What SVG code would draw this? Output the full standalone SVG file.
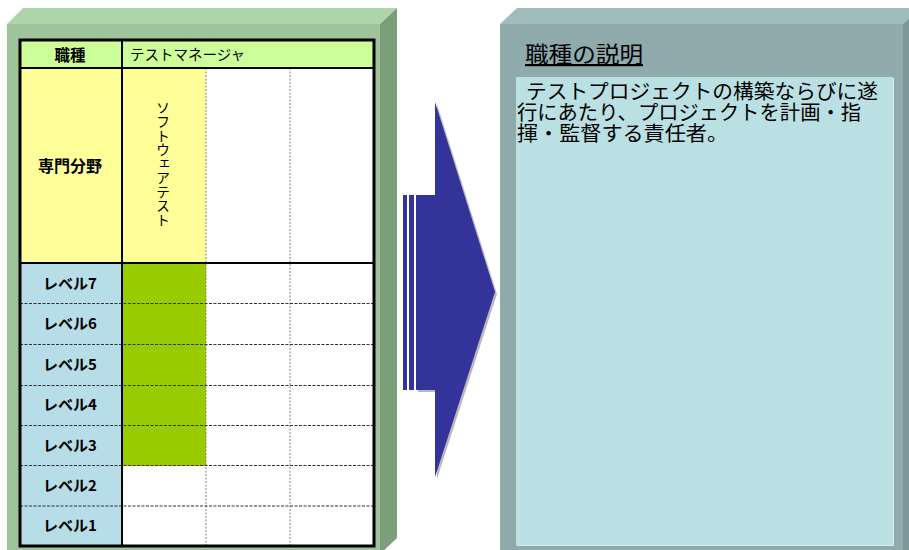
<svg xmlns="http://www.w3.org/2000/svg" width="909" height="550" viewBox="0 0 909 550">
<style>
.t{font-family:"Noto Sans CJK JP","Noto Sans",sans-serif;fill:#000}
.b{font-weight:bold}
.thick{stroke:#000;fill:none}
.vd{stroke:#808080;stroke-width:1;stroke-dasharray:2,1.5}
.hd{stroke:#333;stroke-width:1;stroke-dasharray:3,1.5}
</style>
<rect width="909" height="550" fill="#ffffff"/>
<g id="left-panel">
  <polygon points="7,24 23,8 397,8 380,24" fill="#afd5ab"/>
  <polygon points="380,24 397,8 397,538 380,554" fill="#7d9e7b"/>
  <rect x="7" y="24" width="373" height="530" fill="#9fc49c"/>
</g>
<g id="table">
  <rect x="20" y="40" width="354" height="28" fill="#ccff99"/>
  <rect x="20" y="68" width="102" height="195" fill="#ffff99"/>
  <rect x="122" y="68" width="84" height="195" fill="#ffff99"/>
  <rect x="206" y="68" width="168" height="195" fill="#ffffff"/>
  <rect x="20" y="263" width="102" height="283" fill="#b7dde8"/>
  <rect x="122" y="263" width="84" height="203" fill="#99cc00"/>
  <rect x="122" y="466" width="84" height="80" fill="#ffffff"/>
  <rect x="206" y="263" width="168" height="283" fill="#ffffff"/>
  <g id="grid">
    <line class="vd" x1="206" y1="68" x2="206" y2="546"/>
    <line class="vd" x1="290" y1="68" x2="290" y2="546"/>
    <line class="hd" x1="20" y1="303.5" x2="374" y2="303.5"/>
    <line class="hd" x1="20" y1="344.5" x2="374" y2="344.5"/>
    <line class="hd" x1="20" y1="385.5" x2="374" y2="385.5"/>
    <line class="hd" x1="20" y1="425.5" x2="374" y2="425.5"/>
    <line class="hd" x1="20" y1="465.5" x2="374" y2="465.5"/>
    <line class="hd" x1="20" y1="506" x2="374" y2="506"/>
    <line class="thick" stroke-width="2" x1="20" y1="68" x2="374" y2="68"/>
    <line class="thick" stroke-width="2" x1="20" y1="263" x2="374" y2="263"/>
    <line class="thick" stroke-width="2" x1="122" y1="40" x2="122" y2="546"/>
    <rect class="thick" stroke-width="3" x="20" y="40" width="354" height="506"/>
  </g>
  <text class="t b" x="70" y="61" font-size="15.5" text-anchor="middle">職種</text>
  <text class="t" x="130" y="60" font-size="14.5">テストマネージャ</text>
  <text class="t b" x="70" y="172" font-size="16" text-anchor="middle">専門分野</text>
  <text class="t" x="163" y="101" font-size="14" style="writing-mode:vertical-rl">ソフトウェアテスト</text>
  <g class="t b" font-size="15" text-anchor="middle">
    <text x="70" y="289">レベル7</text>
    <text x="70" y="329">レベル6</text>
    <text x="70" y="370">レベル5</text>
    <text x="70" y="410">レベル4</text>
    <text x="70" y="451">レベル3</text>
    <text x="70" y="491">レベル2</text>
    <text x="70" y="531">レベル1</text>
  </g>
</g>
<g id="arrow">
  <polygon points="418,197 437,197 437,104 497,294 437,479 437,392 418,392" fill="#b8b8c0"/>
  <polygon points="403,195 407,195 407,390 403,390" fill="#333399"/>
  <polygon points="409,195 414,195 414,390 409,390" fill="#333399"/>
  <polygon points="416,195 435,195 435,102 495,292 435,477 435,390 416,390" fill="#333399"/>
</g>
<g id="right-panel">
  <polygon points="500,24 517,8 920,8 903,24" fill="#a0bdbd"/>
  <polygon points="903,24 920,8 920,550 903,550" fill="#7c9898"/>
  <rect x="500" y="24" width="403" height="530" fill="#8eaaaa"/>
  <rect x="517" y="78" width="377" height="468" fill="#d8eef0"/>
  <rect x="516" y="77" width="377" height="468" fill="#bbe0e3"/>
  <text class="t" x="525" y="62" font-size="22" textLength="118" lengthAdjust="spacingAndGlyphs" text-decoration="underline">職種の説明</text>
  <text class="t" font-size="20.5"><tspan x="526" y="99" textLength="352" lengthAdjust="spacingAndGlyphs">テストプロジェクトの構築ならびに遂</tspan><tspan x="517" y="120" textLength="344" lengthAdjust="spacingAndGlyphs">行にあたり、プロジェクトを計画・指</tspan><tspan x="517" y="141" textLength="211" lengthAdjust="spacingAndGlyphs">揮・監督する責任者。</tspan></text>
</g>
</svg>
